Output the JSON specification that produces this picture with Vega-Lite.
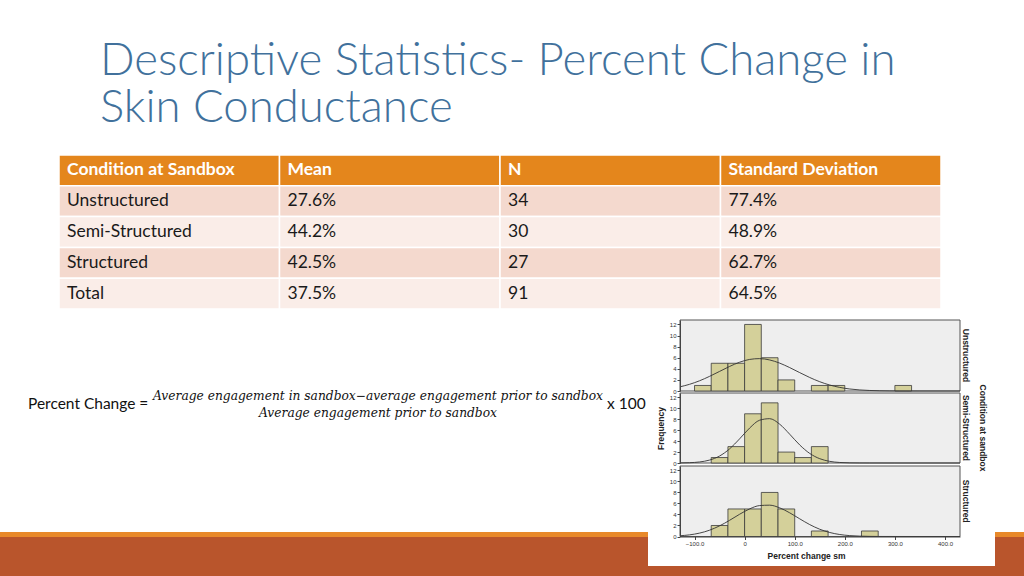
{
  "$schema": "https://vega.github.io/schema/vega-lite/v6.json",
  "width": 1024,
  "height": 576,
  "autosize": {"type": "none"},
  "padding": 0,
  "background": "white",
  "config": {"view": {"stroke": null}},
  "datasets": {
    "table": [
      {"Condition at Sandbox": "Unstructured", "Mean": "27.6%", "N": "34", "Standard Deviation": "77.4%"},
      {"Condition at Sandbox": "Semi-Structured", "Mean": "44.2%", "N": "30", "Standard Deviation": "48.9%"},
      {"Condition at Sandbox": "Structured", "Mean": "42.5%", "N": "27", "Standard Deviation": "62.7%"},
      {"Condition at Sandbox": "Total", "Mean": "37.5%", "N": "91", "Standard Deviation": "64.5%"}
    ],
    "bins": [
      {"condition": "Unstructured", "bin_start": -100, "bin_end": -66.7, "count": 1},
      {"condition": "Unstructured", "bin_start": -66.7, "bin_end": -33.3, "count": 5},
      {"condition": "Unstructured", "bin_start": -33.3, "bin_end": 0, "count": 5},
      {"condition": "Unstructured", "bin_start": 0, "bin_end": 33.3, "count": 12},
      {"condition": "Unstructured", "bin_start": 33.3, "bin_end": 66.7, "count": 6},
      {"condition": "Unstructured", "bin_start": 66.7, "bin_end": 100, "count": 2},
      {"condition": "Unstructured", "bin_start": 133.3, "bin_end": 166.7, "count": 1},
      {"condition": "Unstructured", "bin_start": 166.7, "bin_end": 200, "count": 1},
      {"condition": "Unstructured", "bin_start": 300, "bin_end": 333.3, "count": 1},
      {"condition": "Semi-Structured", "bin_start": -66.7, "bin_end": -33.3, "count": 1},
      {"condition": "Semi-Structured", "bin_start": -33.3, "bin_end": 0, "count": 3},
      {"condition": "Semi-Structured", "bin_start": 0, "bin_end": 33.3, "count": 9},
      {"condition": "Semi-Structured", "bin_start": 33.3, "bin_end": 66.7, "count": 11},
      {"condition": "Semi-Structured", "bin_start": 66.7, "bin_end": 100, "count": 2},
      {"condition": "Semi-Structured", "bin_start": 100, "bin_end": 133.3, "count": 1},
      {"condition": "Semi-Structured", "bin_start": 133.3, "bin_end": 166.7, "count": 3},
      {"condition": "Structured", "bin_start": -66.7, "bin_end": -33.3, "count": 2},
      {"condition": "Structured", "bin_start": -33.3, "bin_end": 0, "count": 5},
      {"condition": "Structured", "bin_start": 0, "bin_end": 33.3, "count": 5},
      {"condition": "Structured", "bin_start": 33.3, "bin_end": 66.7, "count": 8},
      {"condition": "Structured", "bin_start": 66.7, "bin_end": 100, "count": 5},
      {"condition": "Structured", "bin_start": 133.3, "bin_end": 166.7, "count": 1},
      {"condition": "Structured", "bin_start": 233.3, "bin_end": 266.7, "count": 1}
    ],
    "curve": [
      {"condition": "Unstructured", "x": -129, "density": 0.757},
      {"condition": "Unstructured", "x": -110, "density": 1.203},
      {"condition": "Unstructured", "x": -90, "density": 1.842},
      {"condition": "Unstructured", "x": -70, "density": 2.637},
      {"condition": "Unstructured", "x": -50, "density": 3.531},
      {"condition": "Unstructured", "x": -30, "density": 4.427},
      {"condition": "Unstructured", "x": -10, "density": 5.19},
      {"condition": "Unstructured", "x": 10, "density": 5.691},
      {"condition": "Unstructured", "x": 30, "density": 5.837},
      {"condition": "Unstructured", "x": 50, "density": 5.6},
      {"condition": "Unstructured", "x": 70, "density": 5.027},
      {"condition": "Unstructured", "x": 90, "density": 4.22},
      {"condition": "Unstructured", "x": 110, "density": 3.314},
      {"condition": "Unstructured", "x": 130, "density": 2.434},
      {"condition": "Unstructured", "x": 150, "density": 1.673},
      {"condition": "Unstructured", "x": 170, "density": 1.075},
      {"condition": "Unstructured", "x": 190, "density": 0.647},
      {"condition": "Unstructured", "x": 210, "density": 0.363},
      {"condition": "Unstructured", "x": 230, "density": 0.191},
      {"condition": "Unstructured", "x": 250, "density": 0.094},
      {"condition": "Unstructured", "x": 270, "density": 0.043},
      {"condition": "Unstructured", "x": 290, "density": 0.019},
      {"condition": "Unstructured", "x": 310, "density": 0.008},
      {"condition": "Unstructured", "x": 330, "density": 0.003},
      {"condition": "Unstructured", "x": 350, "density": 0.001},
      {"condition": "Unstructured", "x": 390, "density": 0},
      {"condition": "Unstructured", "x": 430, "density": 0},
      {"condition": "Semi-Structured", "x": -129, "density": 0.015},
      {"condition": "Semi-Structured", "x": -110, "density": 0.057},
      {"condition": "Semi-Structured", "x": -90, "density": 0.189},
      {"condition": "Semi-Structured", "x": -70, "density": 0.534},
      {"condition": "Semi-Structured", "x": -50, "density": 1.277},
      {"condition": "Semi-Structured", "x": -30, "density": 2.582},
      {"condition": "Semi-Structured", "x": -10, "density": 4.416},
      {"condition": "Semi-Structured", "x": 10, "density": 6.39},
      {"condition": "Semi-Structured", "x": 30, "density": 7.824},
      {"condition": "Semi-Structured", "x": 50, "density": 8.103},
      {"condition": "Semi-Structured", "x": 70, "density": 7.099},
      {"condition": "Semi-Structured", "x": 90, "density": 5.263},
      {"condition": "Semi-Structured", "x": 110, "density": 3.3},
      {"condition": "Semi-Structured", "x": 130, "density": 1.751},
      {"condition": "Semi-Structured", "x": 150, "density": 0.786},
      {"condition": "Semi-Structured", "x": 170, "density": 0.298},
      {"condition": "Semi-Structured", "x": 190, "density": 0.096},
      {"condition": "Semi-Structured", "x": 210, "density": 0.026},
      {"condition": "Semi-Structured", "x": 230, "density": 0.006},
      {"condition": "Semi-Structured", "x": 250, "density": 0.001},
      {"condition": "Semi-Structured", "x": 300, "density": 0},
      {"condition": "Semi-Structured", "x": 430, "density": 0},
      {"condition": "Structured", "x": -129, "density": 0.137},
      {"condition": "Structured", "x": -110, "density": 0.297},
      {"condition": "Structured", "x": -90, "density": 0.614},
      {"condition": "Structured", "x": -70, "density": 1.145},
      {"condition": "Structured", "x": -50, "density": 1.93},
      {"condition": "Structured", "x": -30, "density": 2.937},
      {"condition": "Structured", "x": -10, "density": 4.036},
      {"condition": "Structured", "x": 10, "density": 5.01},
      {"condition": "Structured", "x": 30, "density": 5.616},
      {"condition": "Structured", "x": 50, "density": 5.689},
      {"condition": "Structured", "x": 70, "density": 5.205},
      {"condition": "Structured", "x": 90, "density": 4.3},
      {"condition": "Structured", "x": 110, "density": 3.21},
      {"condition": "Structured", "x": 130, "density": 2.164},
      {"condition": "Structured", "x": 150, "density": 1.318},
      {"condition": "Structured", "x": 170, "density": 0.725},
      {"condition": "Structured", "x": 190, "density": 0.36},
      {"condition": "Structured", "x": 210, "density": 0.161},
      {"condition": "Structured", "x": 230, "density": 0.066},
      {"condition": "Structured", "x": 250, "density": 0.024},
      {"condition": "Structured", "x": 270, "density": 0.008},
      {"condition": "Structured", "x": 290, "density": 0.003},
      {"condition": "Structured", "x": 310, "density": 0.001},
      {"condition": "Structured", "x": 350, "density": 0},
      {"condition": "Structured", "x": 430, "density": 0}
    ]
  },
  "resolve": {"scale": {"x": "independent", "y": "independent", "color": "independent"}},
  "layer": [
    {"data": {"values": [{}]}, "mark": {"type": "rect", "x": 0, "x2": 1024, "y": 537, "y2": 576, "fill": "#B9552C"}, "encoding": {}},
    {"data": {"values": [{}]}, "mark": {"type": "rect", "x": 0, "x2": 1024, "y": 532, "y2": 537, "fill": "#E8892A"}, "encoding": {}},
    {"data": {"values": [{}]}, "mark": {"type": "rect", "x": 648, "x2": 995, "y": 318, "y2": 566, "fill": "white"}, "encoding": {}},
    {"data": {"values": [{}]}, "mark": {"type": "rule", "x": 100, "x2": 938, "y": 145.5, "y2": 145.5, "color": "#C8C8C8", "strokeWidth": 1}, "encoding": {}},
    {"data": {"values": [{}]}, "mark": {"type": "text", "x": 100, "y": 75, "text": "Descriptive Statistics- Percent Change in", "align": "left", "baseline": "alphabetic", "font": "Lato", "fontWeight": 300, "fontSize": 45.5, "color": "#41719C"}, "encoding": {}},
    {"data": {"values": [{}]}, "mark": {"type": "text", "x": 100, "y": 122, "text": "Skin Conductance", "align": "left", "baseline": "alphabetic", "font": "Lato", "fontWeight": 300, "fontSize": 45.5, "color": "#41719C"}, "encoding": {}},
    {"data": {"values": [{}]}, "mark": {"type": "text", "x": 28, "y": 404, "text": "Percent Change =", "align": "left", "baseline": "middle", "font": "Lato", "fontSize": 15.5, "color": "#111111"}, "encoding": {}},
    {"data": {"values": [{}]}, "mark": {"type": "text", "x": 378, "y": 396, "text": "Average engagement in sandbox−average engagement prior to sandbox", "align": "center", "baseline": "middle", "font": "DejaVu Serif", "fontStyle": "italic", "fontSize": 12.25, "color": "#111111"}, "encoding": {}},
    {"data": {"values": [{}]}, "mark": {"type": "rule", "x": 153, "x2": 604, "y": 404.5, "y2": 404.5, "color": "#111111", "strokeWidth": 0.8}, "encoding": {}},
    {"data": {"values": [{}]}, "mark": {"type": "text", "x": 378, "y": 413, "text": "Average engagement prior to sandbox", "align": "center", "baseline": "middle", "font": "DejaVu Serif", "fontStyle": "italic", "fontSize": 12.25, "color": "#111111"}, "encoding": {}},
    {"data": {"values": [{}]}, "mark": {"type": "text", "x": 607, "y": 404, "text": "x 100", "align": "left", "baseline": "middle", "font": "Lato", "fontSize": 15.5, "color": "#111111"}, "encoding": {}},
    {
      "data": {"name": "table"},
      "transform": [{"fold": ["Condition at Sandbox", "Mean", "N", "Standard Deviation"], "as": ["column", "cell"]}],
      "layer": [
        {
          "transform": [{"filter": "datum['Condition at Sandbox'] == 'Total'"}],
          "mark": {"type": "rect", "fill": "#E4861C", "stroke": "white", "strokeWidth": 1.5},
          "encoding": {
            "x": {"field": "column", "type": "nominal", "scale": {"domain": ["Condition at Sandbox", "Mean", "N", "Standard Deviation"], "range": [59, 941], "paddingInner": 0, "paddingOuter": 0}, "axis": null},
            "y": {"datum": "Header", "type": "nominal", "scale": {"domain": ["Header", "Unstructured", "Semi-Structured", "Structured", "Total"], "range": [155, 309], "paddingInner": 0, "paddingOuter": 0}, "axis": null}
          }
        },
        {
          "mark": {"type": "rect", "stroke": "white", "strokeWidth": 1.5},
          "encoding": {
            "x": {"field": "column", "type": "nominal", "axis": null},
            "y": {"field": "Condition at Sandbox", "type": "nominal", "axis": null},
            "color": {"field": "Condition at Sandbox", "type": "nominal", "scale": {"domain": ["Unstructured", "Semi-Structured", "Structured", "Total"], "range": ["#F4D9CE", "#FAEDE8", "#F4D9CE", "#FAEDE8"]}, "legend": null}
          }
        },
        {
          "transform": [{"filter": "datum['Condition at Sandbox'] == 'Total'"}],
          "mark": {"type": "text", "align": "left", "baseline": "middle", "dx": 8, "font": "Lato", "fontWeight": "bold", "fontSize": 17.5, "color": "white"},
          "encoding": {
            "x": {"field": "column", "type": "nominal", "bandPosition": 0, "axis": null},
            "y": {"datum": "Header", "type": "nominal", "axis": null},
            "text": {"field": "column"}
          }
        },
        {
          "mark": {"type": "text", "align": "left", "baseline": "middle", "dx": 8, "font": "Lato", "fontSize": 17.5, "color": "#1A1A1A"},
          "encoding": {
            "x": {"field": "column", "type": "nominal", "bandPosition": 0, "axis": null},
            "y": {"field": "Condition at Sandbox", "type": "nominal", "axis": null},
            "text": {"field": "cell"}
          }
        }
      ]
    },
    {
      "resolve": {"scale": {"y": "independent"}},
      "layer": [
        {
          "layer": [
            {
              "data": {"values": [{"condition": "Unstructured"}]},
              "mark": {"type": "rect", "fill": "#EEEEEE", "stroke": "#555555", "strokeWidth": 1},
              "encoding": {
                "x": {"datum": -129, "type": "quantitative", "scale": {"domain": [-129, 430], "range": [680, 960], "nice": false, "zero": false},
                  "axis": {"orient": "bottom", "offset": -39.5, "zindex": 2, "values": [-100, 0, 100, 200, 300, 400], "labelExpr": "datum.value == 0 ? '0' : format(datum.value, '.1f')", "title": "Percent change sm", "titleFont": "Liberation Sans", "titleFontSize": 8.5, "titleFontWeight": "bold", "titleColor": "#222222", "titlePadding": 5, "titleX": 806, "titleAlign": "center", "grid": false, "labelFont": "Liberation Sans", "labelFontSize": 6, "labelColor": "#333333", "labelPadding": 1, "tickSize": 3, "tickColor": "#444444", "domainColor": "#444444"}},
                "x2": {"datum": 430},
                "y": {"datum": 0, "type": "quantitative", "scale": {"domain": [0, 12.8], "range": [391, 320], "nice": false, "zero": false},
                  "axis": {"orient": "left", "offset": -680, "zindex": 2, "values": [0, 2, 4, 6, 8, 10, 12], "title": null, "grid": false, "labelFont": "Liberation Sans", "labelFontSize": 6, "labelColor": "#333333", "labelPadding": 1, "tickSize": 3, "tickColor": "#444444", "domainColor": "#444444"}},
                "y2": {"datum": 12.8}
              }
            },
            {
              "data": {"name": "bins"},
              "transform": [{"filter": "datum.condition == 'Unstructured'"}],
              "mark": {"type": "rect", "fill": "#D4D09A", "stroke": "#3A3A3A", "strokeWidth": 0.8},
              "encoding": {
                "x": {"field": "bin_start", "type": "quantitative", "title": "Percent change sm"},
                "x2": {"field": "bin_end"},
                "y": {"field": "count", "type": "quantitative", "title": null},
                "y2": {"datum": 0}
              }
            },
            {
              "data": {"name": "curve"},
              "transform": [{"filter": "datum.condition == 'Unstructured'"}],
              "mark": {"type": "line", "color": "#333333", "strokeWidth": 0.9, "interpolate": "monotone"},
              "encoding": {
                "x": {"field": "x", "type": "quantitative", "title": "Percent change sm"},
                "y": {"field": "density", "type": "quantitative", "title": null}
              }
            },
            {
              "data": {"values": [{"condition": "Unstructured"}]},
              "mark": {"type": "text", "angle": 90, "align": "center", "baseline": "middle", "font": "Liberation Sans", "fontWeight": "bold", "fontSize": 8.5, "color": "#222222"},
              "encoding": {
                "x": {"datum": 442, "type": "quantitative", "title": "Percent change sm"},
                "y": {"datum": 6.4, "type": "quantitative", "title": null},
                "text": {"field": "condition"}
              }
            }
          ]
        },
        {
          "layer": [
            {
              "data": {"values": [{"condition": "Semi-Structured"}]},
              "mark": {"type": "rect", "fill": "#EEEEEE", "stroke": "#555555", "strokeWidth": 1},
              "encoding": {
                "x": {"datum": -129, "type": "quantitative", "title": "Percent change sm"},
                "x2": {"datum": 430},
                "y": {"datum": 0, "type": "quantitative", "scale": {"domain": [0, 12.8], "range": [463, 393], "nice": false, "zero": false},
                  "axis": {"orient": "left", "offset": -680, "zindex": 2, "values": [0, 2, 4, 6, 8, 10, 12], "title": "Frequency", "titleFont": "Liberation Sans", "titleFontSize": 8.5, "titleFontWeight": "bold", "titleColor": "#222222", "titlePadding": 4, "grid": false, "labelFont": "Liberation Sans", "labelFontSize": 6, "labelColor": "#333333", "labelPadding": 1, "tickSize": 3, "tickColor": "#444444", "domainColor": "#444444"}},
                "y2": {"datum": 12.8}
              }
            },
            {
              "data": {"name": "bins"},
              "transform": [{"filter": "datum.condition == 'Semi-Structured'"}],
              "mark": {"type": "rect", "fill": "#D4D09A", "stroke": "#3A3A3A", "strokeWidth": 0.8},
              "encoding": {
                "x": {"field": "bin_start", "type": "quantitative", "title": "Percent change sm"},
                "x2": {"field": "bin_end"},
                "y": {"field": "count", "type": "quantitative", "title": "Frequency"},
                "y2": {"datum": 0}
              }
            },
            {
              "data": {"name": "curve"},
              "transform": [{"filter": "datum.condition == 'Semi-Structured'"}],
              "mark": {"type": "line", "color": "#333333", "strokeWidth": 0.9, "interpolate": "monotone"},
              "encoding": {
                "x": {"field": "x", "type": "quantitative", "title": "Percent change sm"},
                "y": {"field": "density", "type": "quantitative", "title": "Frequency"}
              }
            },
            {
              "data": {"values": [{"condition": "Semi-Structured"}]},
              "mark": {"type": "text", "angle": 90, "align": "center", "baseline": "middle", "font": "Liberation Sans", "fontWeight": "bold", "fontSize": 8.5, "color": "#222222"},
              "encoding": {
                "x": {"datum": 442, "type": "quantitative", "title": "Percent change sm"},
                "y": {"datum": 6.4, "type": "quantitative", "title": "Frequency"},
                "text": {"field": "condition"}
              }
            },
            {
              "data": {"values": [{"label": "Condition at sandbox"}]},
              "mark": {"type": "text", "angle": 90, "align": "center", "baseline": "middle", "font": "Liberation Sans", "fontWeight": "bold", "fontSize": 8.5, "color": "#222222"},
              "encoding": {
                "x": {"datum": 476, "type": "quantitative", "title": "Percent change sm"},
                "y": {"datum": 6.4, "type": "quantitative", "title": "Frequency"},
                "text": {"field": "label"}
              }
            }
          ]
        },
        {
          "layer": [
            {
              "data": {"values": [{"condition": "Structured"}]},
              "mark": {"type": "rect", "fill": "#EEEEEE", "stroke": "#555555", "strokeWidth": 1},
              "encoding": {
                "x": {"datum": -129, "type": "quantitative", "title": "Percent change sm"},
                "x2": {"datum": 430},
                "y": {"datum": 0, "type": "quantitative", "scale": {"domain": [0, 12.8], "range": [536.5, 466], "nice": false, "zero": false},
                  "axis": {"orient": "left", "offset": -680, "zindex": 2, "values": [0, 2, 4, 6, 8, 10, 12], "title": null, "grid": false, "labelFont": "Liberation Sans", "labelFontSize": 6, "labelColor": "#333333", "labelPadding": 1, "tickSize": 3, "tickColor": "#444444", "domainColor": "#444444"}},
                "y2": {"datum": 12.8}
              }
            },
            {
              "data": {"name": "bins"},
              "transform": [{"filter": "datum.condition == 'Structured'"}],
              "mark": {"type": "rect", "fill": "#D4D09A", "stroke": "#3A3A3A", "strokeWidth": 0.8},
              "encoding": {
                "x": {"field": "bin_start", "type": "quantitative", "title": "Percent change sm"},
                "x2": {"field": "bin_end"},
                "y": {"field": "count", "type": "quantitative", "title": null},
                "y2": {"datum": 0}
              }
            },
            {
              "data": {"name": "curve"},
              "transform": [{"filter": "datum.condition == 'Structured'"}],
              "mark": {"type": "line", "color": "#333333", "strokeWidth": 0.9, "interpolate": "monotone"},
              "encoding": {
                "x": {"field": "x", "type": "quantitative", "title": "Percent change sm"},
                "y": {"field": "density", "type": "quantitative", "title": null}
              }
            },
            {
              "data": {"values": [{"condition": "Structured"}]},
              "mark": {"type": "text", "angle": 90, "align": "center", "baseline": "middle", "font": "Liberation Sans", "fontWeight": "bold", "fontSize": 8.5, "color": "#222222"},
              "encoding": {
                "x": {"datum": 442, "type": "quantitative", "title": "Percent change sm"},
                "y": {"datum": 6.4, "type": "quantitative", "title": null},
                "text": {"field": "condition"}
              }
            }
          ]
        }
      ]
    }
  ]
}
